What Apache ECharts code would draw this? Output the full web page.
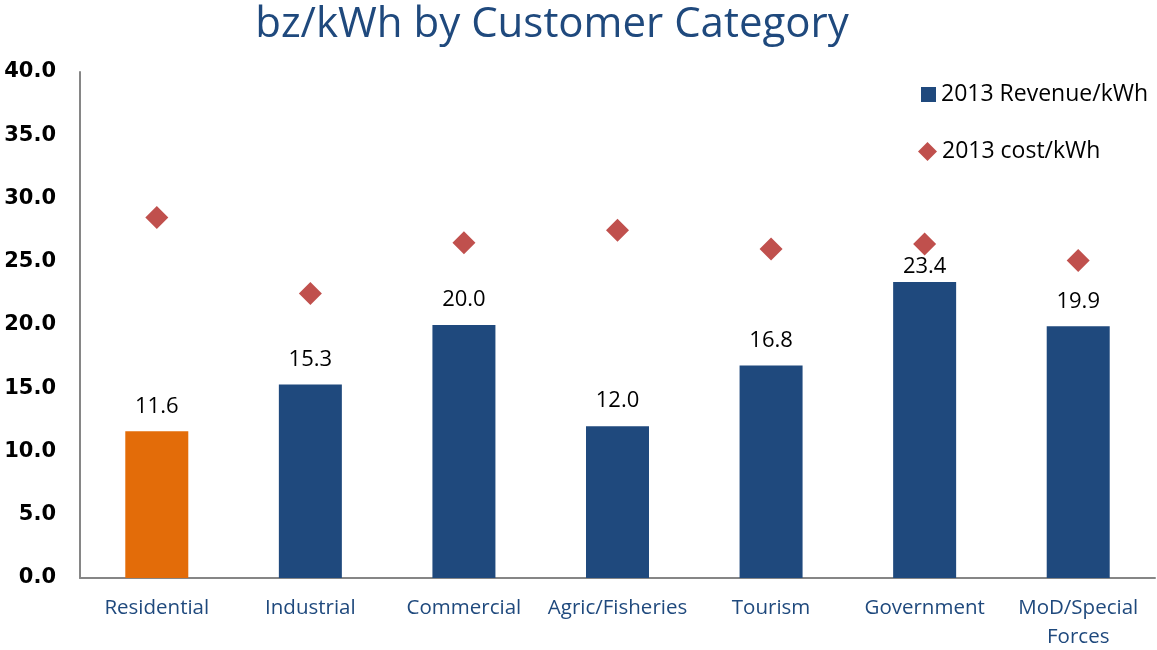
<!DOCTYPE html>
<html>
<head>
<meta charset="utf-8">
<script src="https://cdn.jsdelivr.net/npm/echarts@6/dist/echarts.min.js"></script>
<style>
  html, body { margin: 0; padding: 0; background: #fff; }
  #chart { width: 1157px; height: 650px; }
</style>
</head>
<body>
<div id="chart"></div>
<script>
const categories = ["Residential", "Industrial", "Commercial", "Agric/Fisheries", "Tourism", "Government", "MoD/Special\nForces"];
const revenue = [11.6, 15.3, 20.0, 12.0, 16.8, 23.4, 19.9];
const cost = [28.5, 22.5, 26.5, 27.5, 26.0, 26.4, 25.1];

const chart = echarts.init(document.getElementById("chart"));

const legendText = { fontFamily: "Open Sans", fontSize: 23, color: "#000" };

const option = {
  animation: false,
  title: {
    text: "bz/kWh by Customer Category",
    left: 547,
    textAlign: "center",
    top: -1,
    textStyle: { fontFamily: "Open Sans", fontSize: 42, fontWeight: "normal", color: "#1F497D" },
  },
  legend: [
    {
      left: 916,
      top: 78,
      itemWidth: 15,
      itemHeight: 15,
      textStyle: legendText,
      data: [{ name: "2013 Revenue/kWh", icon: "rect", itemStyle: { color: "#1F497D" } }],
    },
    {
      left: 913,
      top: 135,
      itemWidth: 19,
      itemHeight: 19,
      textStyle: legendText,
      data: [{ name: "2013 cost/kWh", icon: "diamond", itemStyle: { color: "#C0504D", opacity: 1 } }],
    },
  ],
  grid: { left: 80, right: 2, top: 72, bottom: 72, outerBoundsMode: "none", containLabel: false },
  xAxis: {
    type: "category",
    data: categories,
    axisLine: { lineStyle: { color: "#868686", width: 2 } },
    axisTick: { show: false },
    axisLabel: {
      fontFamily: "Open Sans",
      fontSize: 20.5,
      color: "#1F497D",
      margin: 16,
      lineHeight: 29,
      interval: 0,
    },
  },
  yAxis: {
    type: "value",
    min: 0,
    max: 40,
    interval: 5,
    axisLine: { show: true, lineStyle: { color: "#868686", width: 2 } },
    axisTick: { show: false },
    splitLine: { show: false },
    axisLabel: {
      fontFamily: "DejaVu Sans",
      fontSize: 21,
      fontWeight: "bold",
      color: "#000",
      margin: 24,
      formatter: (v) => v.toFixed(1),
    },
  },
  series: [
    {
      name: "2013 Revenue/kWh",
      type: "bar",
      barWidth: 63,
      data: revenue.map((v, i) => ({
        value: v,
        itemStyle: { color: i === 0 ? "#E36C09" : "#1F497D" },
        // the Government label sits closer to its bar to clear the diamond
        label: i === 5 ? { distance: 4 } : undefined,
      })),
      itemStyle: { color: "#1F497D" },
      label: {
        show: true,
        position: "top",
        distance: 14,
        fontFamily: "Open Sans",
        fontSize: 22,
        color: "#000",
        formatter: (p) => p.value.toFixed(1),
      },
    },
    {
      name: "2013 cost/kWh",
      type: "scatter",
      symbol: "diamond",
      symbolSize: 23,
      data: cost,
      itemStyle: { color: "#C0504D", opacity: 1 },
    },
  ],
};

chart.setOption(option);
</script>
</body>
</html>
